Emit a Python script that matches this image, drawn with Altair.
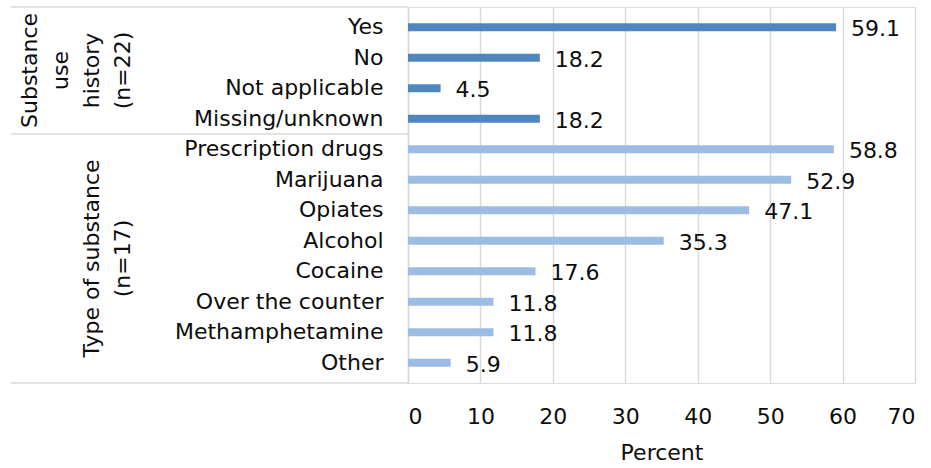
import altair as alt
import pandas as pd

# Survey responses, in display order
history_labels = ["Yes", "No", "Not applicable", "Missing/unknown"]
history_values = [59.1, 18.2, 4.5, 18.2]

substance_labels = ["Prescription drugs", "Marijuana", "Opiates", "Alcohol",
                    "Cocaine", "Over the counter", "Methamphetamine", "Other"]
substance_values = [58.8, 52.9, 47.1, 35.3, 17.6, 11.8, 11.8, 5.9]

group_titles = [
    ["Substance", "use", "history", "(n=22)"],
    ["Type of substance", "(n=17)"],
]

x_ticks = [0, 10, 20, 30, 40, 50, 60, 70]

df = pd.DataFrame({
    "category": history_labels + substance_labels,
    "value": history_values + substance_values,
    "group": ["history"] * len(history_labels) + ["substance"] * len(substance_labels),
})
order = history_labels + substance_labels

FONT = "DejaVu Sans"
FS = 22
W, H = 507, 376
PAD_OUT = 0.16
STEP = H / (len(order) + 2 * PAD_OUT)
GRID = "#d9d9d9"
INK = "#0d0d0d"

base = alt.Chart(df)

y_enc = alt.Y("category:N", sort=order, title=None,
              scale=alt.Scale(paddingInner=0, paddingOuter=PAD_OUT),
              axis=alt.Axis(ticks=False, labelPadding=25, labelFontSize=FS,
                            labelFont=FONT, labelColor=INK,
                            domainColor=GRID, domainWidth=1.5, labelLimit=400))
x_enc = alt.X("value:Q", title="Percent",
              scale=alt.Scale(domain=[0, 70], nice=False, zero=True),
              axis=alt.Axis(values=x_ticks, grid=True, gridColor=GRID, gridWidth=1.5,
                            domain=False, ticks=False, labelPadding=23,
                            labelFontSize=FS, labelFont=FONT, labelColor=INK,
                            titleFontSize=FS, titleFont=FONT, titleFontWeight="normal",
                            titleColor=INK, titlePadding=15))

bars = base.mark_bar(size=8).encode(
    y=y_enc, x=x_enc,
    color=alt.Color("group:N", legend=None,
                    scale=alt.Scale(domain=["history", "substance"],
                                    range=["#4f86be", "#9cbde3"])),
)

labels = base.mark_text(align="left", baseline="middle", dx=15, dy=2,
                        fontSize=FS, font=FONT, color=INK).encode(
    y=alt.Y("category:N", sort=order),
    x="value:Q",
    text=alt.Text("value:Q", format=".1f"),
)

# Frame around the category/group label area
frame_df = pd.DataFrame({"k": [0]})
left_edge = -397
split_y = STEP * PAD_OUT + STEP * len(history_labels)
frame = []
for yy in [0, split_y, H]:
    frame.append(alt.Chart(frame_df).mark_rule(color=GRID, strokeWidth=1.5).encode(
        x=alt.value(left_edge), x2=alt.value(0), y=alt.value(yy)))

# Rotated group titles, one text mark per line
titles = []
title_specs = [
    (group_titles[0], -378, split_y / 2),
    (group_titles[1], -316, (split_y + H) / 2),
]
for lines, x0, yc in title_specs:
    for i, line in enumerate(lines):
        titles.append(alt.Chart(pd.DataFrame({"t": [line]})).mark_text(
            angle=270, align="center", baseline="middle",
            fontSize=FS, font=FONT, color=INK).encode(
            x=alt.value(x0 + 31 * i), y=alt.value(yc), text="t:N"))

chart = alt.layer(bars, labels, *frame, *titles).properties(
    width=W, height=H,
    autosize=alt.AutoSizeParams(type="none"),
    padding={"left": 408, "top": 7, "right": 16, "bottom": 85},
).configure_view(stroke=None).configure(background="white")

chart.save("out.html", embed_options={"renderer": "svg", "actions": False})
